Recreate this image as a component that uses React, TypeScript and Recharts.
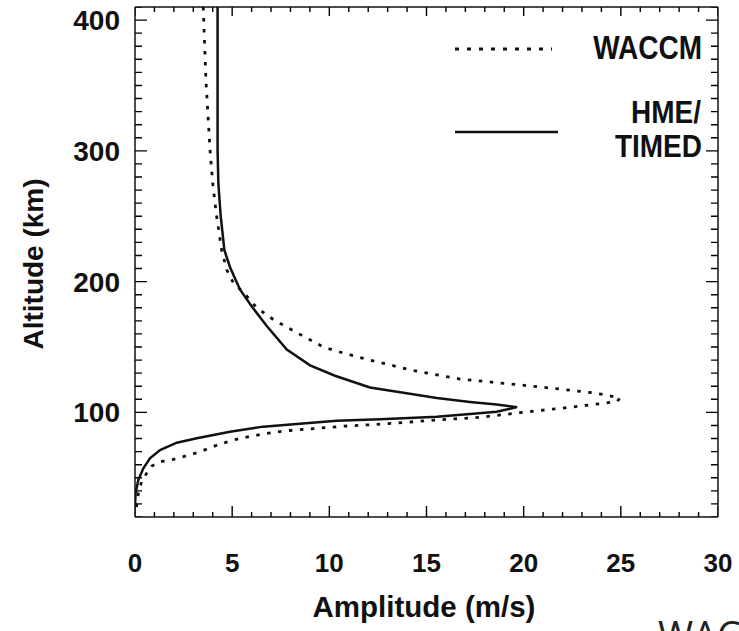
import { LineChart, Line, XAxis, YAxis, Customized } from "recharts";

// WACCM tidal amplitude profile, top of the box down to the ground
const waccmAmp = [3.51, 3.65, 3.86, 4.0, 4.19, 4.46, 4.72, 5.06, 5.57, 6.26, 7.12, 8.32, 9.69, 10.81, 12.09, 14.32, 16.72, 19.13, 21.53, 23.76, 24.96, 24.79, 22.38, 19.81, 17.75, 15.53, 12.78, 10.89, 9.35, 7.81, 6.6, 5.4, 4.37, 3.34, 2.49, 1.97, 1.29, 0.86, 0.6, 0.34, 0.17, 0.09, 0.05];
const waccmAlt = [410, 354, 301, 275, 251, 224, 209, 199, 192, 180, 171, 161, 150, 145, 140, 132, 125.5, 122, 118.4, 114.6, 111, 108.2, 103.9, 99.8, 96.2, 94.2, 91.1, 89.6, 87.8, 86, 83.5, 80.2, 75.8, 69.9, 66.1, 64.1, 62.3, 59, 53.4, 47, 38.1, 29.2, 23.8];

// HME/TIMED profile
const hmeAmp = [4.25, 4.25, 4.29, 4.41, 4.6, 4.89, 5.4, 6.01, 6.78, 7.81, 9.01, 10.29, 12.09, 13.81, 15.53, 17.24, 18.61, 19.66, 18.61, 17.24, 15.53, 13.81, 12.61, 10.38, 8.32, 6.6, 4.89, 3.18, 2.15, 1.29, 0.77, 0.43, 0.17, 0.03, 0.0];
const hmeAlt = [410, 300, 275, 250, 224, 211, 194, 181, 166, 148, 136, 128, 119, 115, 111, 108, 106, 104, 100.5, 98.8, 96.7, 95.5, 94.7, 93.6, 91.1, 89.1, 85.2, 80.2, 76.8, 71.2, 64.9, 57.2, 48.3, 38.4, 27.6];

const xTickLabels = [0, 5, 10, 15, 20, 25, 30];
const yTickLabels = [100, 200, 300, 400];
const xMinorTicks = Array.from({ length: 31 }, (_, i) => i);
const yMinorTicks = Array.from({ length: 40 }, (_, i) => 20 + i * 10);

const waccm = waccmAlt.map((alt, i) => ({ alt, amp: waccmAmp[i] }));
const hme = hmeAlt.map((alt, i) => ({ alt, amp: hmeAmp[i] }));

const X_DOMAIN = [0, 30];
const Y_DOMAIN = [20, 410];
const PLOT_W = 583;
const PLOT_H = 510;
// tick lengths are given in pixels, turned into data units here
const xPerPx = (X_DOMAIN[1] - X_DOMAIN[0]) / PLOT_W;
const yPerPx = (Y_DOMAIN[1] - Y_DOMAIN[0]) / PLOT_H;

// inward tick marks as broken polylines (a null altitude lifts the pen)
const bottomTicks = xMinorTicks.flatMap((v) => {
  const len = (xTickLabels.includes(v) ? 11 : 5) * yPerPx;
  return [{ amp: v, alt: Y_DOMAIN[0] }, { amp: v, alt: Y_DOMAIN[0] + len }, { amp: v, alt: null }];
});
const topTicks = xMinorTicks.flatMap((v) => {
  const len = (xTickLabels.includes(v) ? 9 : 5) * yPerPx;
  return [{ amp: v, alt: Y_DOMAIN[1] }, { amp: v, alt: Y_DOMAIN[1] - len }, { amp: v, alt: null }];
});
const leftTicks = yMinorTicks.flatMap((v) => {
  const len = (yTickLabels.includes(v) ? 12 : 7) * xPerPx;
  return [{ amp: X_DOMAIN[0], alt: v }, { amp: X_DOMAIN[0] + len, alt: v }, { amp: X_DOMAIN[0], alt: null }];
});
const rightTicks = yMinorTicks.flatMap((v) => {
  const len = (yTickLabels.includes(v) ? 12 : 7) * xPerPx;
  return [{ amp: X_DOMAIN[1], alt: v }, { amp: X_DOMAIN[1] - len, alt: v }, { amp: X_DOMAIN[1], alt: null }];
});

const FONT = '"Liberation Sans", Arial, Helvetica, sans-serif';
const INK = "#111";
const frame = { stroke: INK, strokeWidth: 1.5 };

const BottomLabel = ({ x, y, payload }: any) => (
  <text x={x} y={Number(y) + 55} textAnchor="middle" fontSize={26} fontWeight="bold" fontFamily={FONT} fill={INK}>
    {payload.value}
  </text>
);

const LeftLabel = ({ x, y, payload }: any) => (
  <text x={Number(x) - 15} y={Number(y) + 10} textAnchor="end" fontSize={28} fontWeight="bold" fontFamily={FONT} fill={INK}>
    {payload.value}
  </text>
);

const Overlay = () => (
  <g fontFamily={FONT} fontWeight="bold" fill={INK}>
    <text transform="translate(43,264) rotate(-90)" textAnchor="middle" fontSize={28}>
      Altitude (km)
    </text>
    <text x={424} y={617} textAnchor="middle" fontSize={29.5}>
      Amplitude (m/s)
    </text>

    {/* legend */}
    <line x1={455} y1={49} x2={552} y2={49} stroke={INK} strokeWidth={2.8} strokeDasharray="4 8" />
    <text transform="translate(702,59) scale(1,1.2)" textAnchor="end" fontSize={28}>
      WACCM
    </text>
    <line x1={455} y1={132} x2={558} y2={132} stroke={INK} strokeWidth={2.6} />
    <text transform="translate(701,123) scale(1,1.15)" textAnchor="end" fontSize={28}>
      HME/
    </text>
    <text transform="translate(702,157) scale(1,1.15)" textAnchor="end" fontSize={28}>
      TIMED
    </text>

    <text x={658} y={649} fontSize={38} fontWeight="normal" fontFamily='"Open Sans", "Noto Sans", sans-serif' fill="#222">
      WACCM
    </text>
  </g>
);

const tickSeries = [
  { key: "tb", data: bottomTicks },
  { key: "tt", data: topTicks },
  { key: "tl", data: leftTicks },
  { key: "tr", data: rightTicks },
];

export default function App() {
  return (
    <div style={{ position: "absolute", left: 0, top: 0, width: 739, height: 631, background: "#fff" }}>
      <LineChart width={739} height={631} margin={{ top: 6, right: 20, bottom: 54, left: 35 }}>
        <XAxis xAxisId="b" type="number" dataKey="amp" domain={X_DOMAIN} ticks={xTickLabels} interval={0}
          height={60} tickSize={0} tickMargin={0} tickLine={false} stroke="#000" axisLine={frame} tick={BottomLabel} allowDataOverflow />
        <XAxis xAxisId="t" orientation="top" type="number" domain={X_DOMAIN} ticks={xTickLabels}
          height={1} tickLine={false} stroke="#000" axisLine={frame} tick={false} allowDataOverflow />
        <YAxis yAxisId="l" type="number" domain={Y_DOMAIN} ticks={yTickLabels} interval={0}
          width={100} tickSize={0} tickMargin={0} tickLine={false} stroke="#000" axisLine={frame} tick={LeftLabel} allowDataOverflow />
        <YAxis yAxisId="r" orientation="right" type="number" domain={Y_DOMAIN} ticks={yTickLabels}
          width={1} tickLine={false} stroke="#000" axisLine={frame} tick={false} allowDataOverflow />

        {tickSeries.map((t) => (
          <Line key={t.key} xAxisId="b" yAxisId="l" data={t.data} dataKey="alt" type="linear" stroke="#000"
            strokeWidth={1.4} connectNulls={false} dot={false} activeDot={false} legendType="none" isAnimationActive={false} />
        ))}

        <Line xAxisId="b" yAxisId="l" data={waccm} dataKey="alt" type="linear" stroke={INK} strokeWidth={2.8}
          strokeDasharray="3.5 7.5" dot={false} activeDot={false} isAnimationActive={false} />
        <Line xAxisId="b" yAxisId="l" data={hme} dataKey="alt" type="linear" stroke={INK} strokeWidth={2.5}
          dot={false} activeDot={false} isAnimationActive={false} />
        <Customized component={Overlay} />
      </LineChart>
    </div>
  );
}
